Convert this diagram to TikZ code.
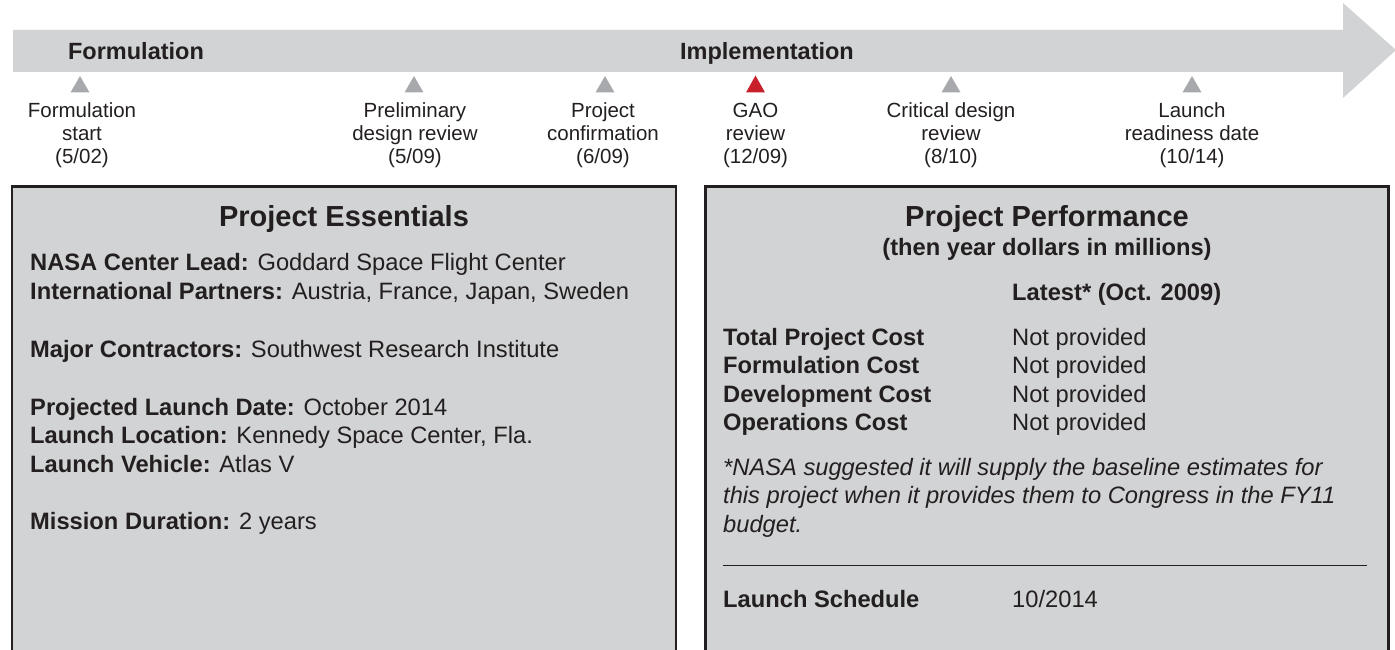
\documentclass[tikz,border=0pt]{standalone}
\usepackage{fontspec}
\setmainfont{Liberation Sans}
\definecolor{bandgray}{HTML}{D1D3D4}
\definecolor{trigray}{HTML}{A7A9AC}
\definecolor{gaored}{HTML}{C8202A}
\definecolor{ink}{HTML}{231F20}
\tikzset{
  phase/.style={anchor=base, inner sep=0pt, text=ink, font=\fontsize{23.5}{28}\selectfont\bfseries},
  lab/.style={anchor=north, inner sep=0pt, align=center, text=ink, font=\fontsize{20.5}{23}\selectfont},
  panel/.style={fill=bandgray, draw=ink, line width=2.5pt},
  title/.style={anchor=base, inner sep=0pt, text=ink, font=\fontsize{29}{34}\selectfont\bfseries},
  subtitle/.style={anchor=base, inner sep=0pt, text=ink, font=\fontsize{23.7}{28}\selectfont\bfseries},
  row/.style={anchor=base west, inner sep=0pt, text=ink, font=\fontsize{23.7}{28}\selectfont},
  rowb/.style={row, font=\fontsize{23.7}{28}\selectfont\bfseries},
  note/.style={row, font=\fontsize{23.7}{28}\selectfont\itshape},
}
\newcommand{\fstrut}{\rule{0pt}{15pt}}
\begin{document}
\begin{tikzpicture}[x=1pt,y=-1pt]
\useasboundingbox (0,0) rectangle (1395,650);
% timeline arrow
\fill[bandgray] (13,30) -- (1343,30) -- (1343,3) -- (1396,50) -- (1343,98) -- (1343,72) -- (13,72) -- cycle;
\node[phase] (form) at (136,60) {Formulation};
\node[phase] (impl) at (767,60) {Implementation};
% milestones
\foreach \x in {80,414,605,951,1192}{
  \fill[trigray] (\x-9.5,92.5) -- (\x+9.5,92.5) -- (\x,76) -- cycle;
}
\fill[gaored] (755.5-9.5,92.5) -- (755.5+9.5,92.5) -- (755.5,75.5) -- cycle;
\node[lab] (m1) at (82,102) {\fstrut Formulation\\start\\(5/02)};
\node[lab] (m2) at (415,102) {\fstrut Preliminary\\design review\\(5/09)};
\node[lab] (m3) at (603,102) {\fstrut Project\\confirmation\\(6/09)};
\node[lab] (m4) at (755.5,102) {\fstrut GAO\\review\\(12/09)};
\node[lab] (m5) at (951,102) {\fstrut Critical design\\review\\(8/10)};
\node[lab] (m6) at (1192,102) {\fstrut Launch\\readiness date\\(10/14)};
% panels
\draw[panel] (12,186.5) -- (12,662) -- (676,662) -- (676,186.5) -- cycle;
\draw[panel] (705.5,186.5) -- (705.5,662) -- (1388.5,662) -- (1388.5,186.5) -- cycle;
% left panel
\node[title] (pe) at (344,226) {Project Essentials};
\node[row] (l1) at (30,270) {\textbf{NASA Center Lead:} Goddard Space Flight Center};
\node[row] (l2) at (30,299) {\textbf{International Partners:} Austria, France, Japan, Sweden};
\node[row] (l3) at (30,357) {\textbf{Major Contractors:} Southwest Research Institute};
\node[row] (l4) at (30,415) {\textbf{Projected Launch Date:} October 2014};
\node[row] (l5) at (30,443) {\textbf{Launch Location:} Kennedy Space Center, Fla.};
\node[row] (l6) at (30,472) {\textbf{Launch Vehicle:} Atlas V};
\node[row] (l7) at (30,529) {\textbf{Mission Duration:} 2 years};
% right panel
\node[title] (pp) at (1047,226) {Project Performance};
\node[subtitle] (pps) at (1047,255) {(then year dollars in millions)};
\node[rowb] (lat) at (1012,300) {Latest* (Oct. 2009)};
\node[rowb] (r1) at (723,345) {Total Project Cost};
\node[rowb] (r2) at (723,373) {Formulation Cost};
\node[rowb] (r3) at (723,402) {Development Cost};
\node[rowb] (r4) at (723,430) {Operations Cost};
\node[row] (v1) at (1012,345) {Not provided};
\node[row] (v2) at (1012,373) {Not provided};
\node[row] (v3) at (1012,402) {Not provided};
\node[row] (v4) at (1012,430) {Not provided};
\node[note] (n1) at (723,475) {*NASA suggested it will supply the baseline estimates for};
\node[note] (n2) at (723,503) {this project when it provides them to Congress in the FY11};
\node[note] (n3) at (723,532) {budget.};
\coordinate (ruleA) at (723,565);
\coordinate (ruleB) at (1367,565);
\draw[ink, line width=1pt] (ruleA) -- (ruleB);
\node[rowb] (ls) at (723,607) {Launch Schedule};
\node[row] (lsv) at (1012,607) {10/2014};
\end{tikzpicture}
\end{document}
